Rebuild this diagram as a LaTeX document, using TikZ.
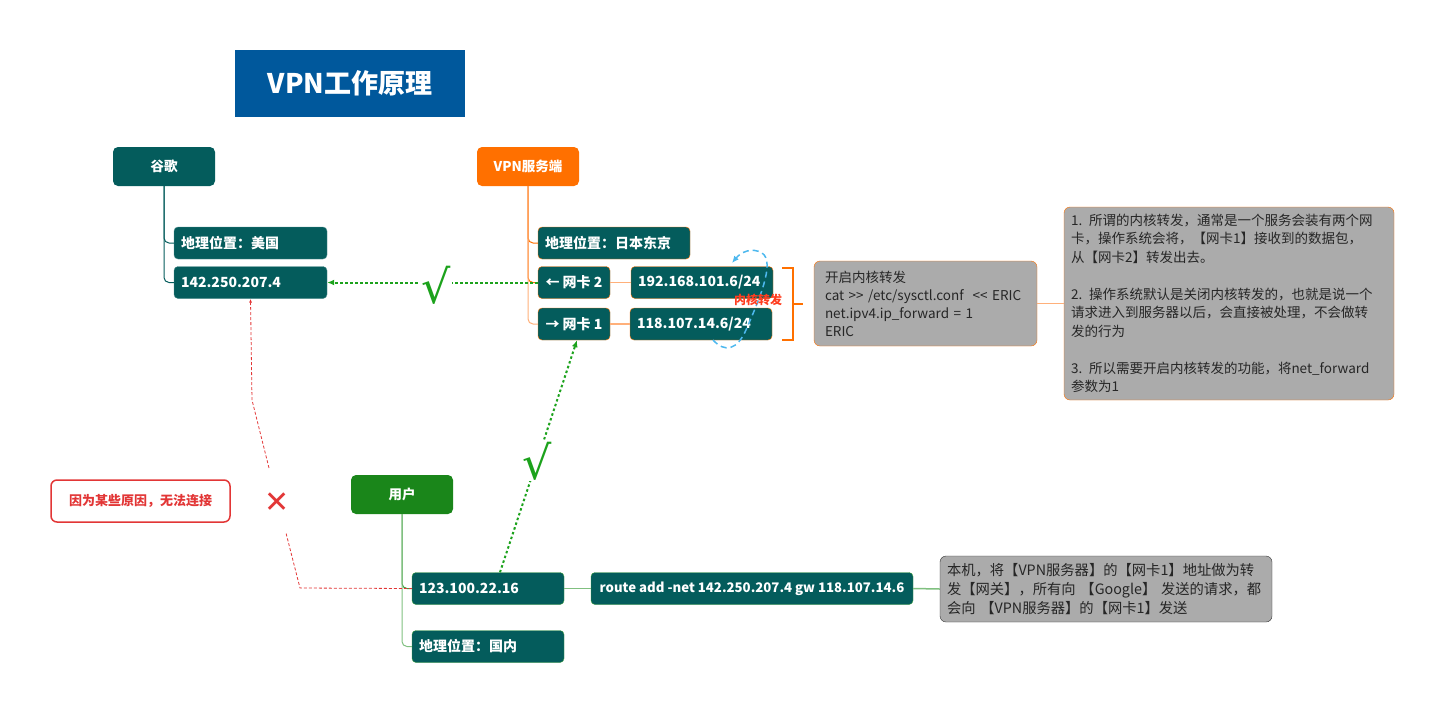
\documentclass[tikz,border=0pt]{standalone}
\usepackage{fontspec}
\setmainfont{Noto Sans CJK SC}
\newfontfamily\symfont{DejaVu Sans}
\usetikzlibrary{arrows.meta}
\definecolor{tealbox}{HTML}{045C5C}
\definecolor{vpnorange}{HTML}{FF7000}
\definecolor{lightorange}{HTML}{FFB07A}
\definecolor{usergreen}{HTML}{1A861A}
\definecolor{linegreen}{HTML}{3F9F3F}
\definecolor{lightgreen}{HTML}{80C080}
\definecolor{dotgreen}{HTML}{1CA21C}
\definecolor{titleblue}{HTML}{00589C}
\definecolor{graybox}{HTML}{ABABAB}
\definecolor{warnred}{HTML}{E23636}
\definecolor{kernred}{HTML}{FF3D1F}
\definecolor{loopblue}{HTML}{4DB8EE}
\begin{document}
\begin{tikzpicture}[x=1pt,y=1pt,
  hub/.style={rounded corners=5pt, text=white, font=\bfseries\fontsize{13.5}{16}\selectfont,
    minimum width=102pt, minimum height=39pt, inner sep=0pt},
  leaf/.style={rounded corners=4pt, fill=tealbox, text=white, font=\bfseries\fontsize{14}{16}\selectfont,
    minimum height=32pt, inner xsep=7pt, inner ysep=0pt, align=left},
  memo/.style={rounded corners=6pt, fill=graybox, text=black!85, align=left, inner xsep=7pt},
  branch/.style={rounded corners=5pt, line width=1pt},
  okpath/.style={dotgreen, line width=2pt, dash pattern=on 2.5pt off 2.5pt, -{Latex[length=7pt,width=6pt]}},
  failpath/.style={warnred, line width=0.8pt, dash pattern=on 3pt off 2pt, -{Latex[length=4pt,width=3pt]}},
  tick/.style={dotgreen, font=\symfont\fontsize{46}{46}\selectfont, inner sep=1pt}]
\useasboundingbox (0,0) rectangle (1445,-713);
% Title
\node[fill=titleblue, text=white, font=\bfseries\fontsize{27}{30}\selectfont,
  minimum width=230pt, minimum height=67pt] (title) at (350,-83.5) {VPN工作原理};

% Google side
\node[hub, fill=tealbox] (gg) at (164,-166.5) {谷歌};
\node[leaf, draw=tealbox!70, text width=139pt] (geo1) at (250.5,-243) {地理位置：美国};
\node[leaf, draw=tealbox!70, text width=139pt] (ip1) at (250.5,-282.5) {142.250.207.4};
\draw[branch, tealbox] (gg.south) |- (geo1.west);
\draw[branch, tealbox] (gg.south) |- (ip1.west);

% VPN server side
\node[hub, fill=vpnorange] (vpn) at (528,-166.5) {VPN服务端};
\node[leaf, draw=vpnorange, text width=138pt] (geo2) at (614,-243) {地理位置：日本东京};
\node[leaf, draw=vpnorange, minimum width=72pt] (nic2) at (574,-282.5) {← 网卡 2};
\node[leaf, draw=vpnorange, minimum width=72pt] (nic1) at (574,-324) {→ 网卡 1};
\node[leaf, draw=vpnorange, text width=128pt] (ip2) at (702,-282.5) {192.168.101.6/24};
\node[leaf, draw=vpnorange, text width=128pt] (ip3) at (701,-324) {118.107.14.6/24};
\draw[branch, vpnorange] (vpn.south) |- (geo2.west);
\draw[branch, vpnorange] (vpn.south) |- (nic2.west);
\draw[branch, lightorange] (vpn.south) |- (nic1.west);
\draw[lightorange, line width=1.5pt] (nic2.east) -- (ip2.west);
\draw[lightorange, line width=1.5pt] (nic1.east) -- (ip3.west);

% Kernel forwarding loop
\draw[loopblue, line width=1.5pt, dash pattern=on 6pt off 4pt, -{Latex[length=7pt,width=6pt]}]
  (713,-340) .. controls (725,-353) and (737,-350) .. (746,-330)
  .. controls (758,-302) and (776,-262) .. (762,-253)
  .. controls (752,-247) and (741,-252) .. (732,-263);
\node[kernred, font=\bfseries\fontsize{12}{14}\selectfont, inner sep=0pt] (kern) at (758,-300) {内核转发};

% Bracket and notes
\coordinate (brk) at (793,-304);
\draw[vpnorange, line width=1.5pt] (782,-268) -- (793,-268) -- (793,-340) -- (782,-340);
\draw[vpnorange, line width=1.5pt] (brk) -- ++(10,0);
\node[memo, draw=vpnorange, text width=201pt, inner xsep=11pt, minimum height=85pt,
  font=\fontsize{13.5}{18}\selectfont] (cmd) at (925.5,-303.5)
  {开启内核转发\\
   cat >{}> /etc/sysctl.conf \ <{}< ERIC\\
   net.ipv4.ip\_forward = 1\\
   ERIC};
\node[memo, draw=vpnorange, text width=316pt, minimum height=193pt,
  font=\fontsize{13.5}{18.5}\selectfont] (note) at (1229,-303.5)
  {1. 所谓的内核转发，通常是一个服务会装有两个网\\
   卡，操作系统会将，【网卡1】接收到的数据包，\\
   从【网卡2】转发出去。\\[18.5pt]
   2. 操作系统默认是关闭内核转发的，也就是说一个\\
   请求进入到服务器以后，会直接被处理，不会做转\\
   发的行为\\[18.5pt]
   3. 所以需要开启内核转发的功能，将net\_forward\\
   参数为1};
\draw[lightorange, line width=1.5pt] (cmd.east) -- (note.west);

% User side
\node[hub, fill=usergreen] (usr) at (402,-494.5) {用户};
\node[leaf, draw=linegreen, text width=138pt] (usrip) at (488,-588.5) {123.100.22.16};
\node[leaf, draw=linegreen, text width=138pt] (geo3) at (488,-646.5) {地理位置：国内};
\node[leaf, draw=linegreen, minimum width=322pt, inner xsep=3pt, align=center,
  font=\bfseries\fontsize{13.2}{16}\selectfont] (route) at (752,-588.5)
  {route add -net 142.250.207.4 gw 118.107.14.6};
\node[memo, draw=black!80, text width=318pt, minimum height=66pt,
  font=\fontsize{14.3}{19}\selectfont] (note2) at (1106,-589)
  {本机，将【VPN服务器】的【网卡1】地址做为转\\
   发【网关】，所有向 【Google】 发送的请求，都\\
   会向 【VPN服务器】的【网卡1】发送};
\draw[branch, linegreen] (usr.south) |- (usrip.west);
\draw[branch, lightgreen] (usr.south) |- (geo3.west);
\draw[lightgreen, line width=1.5pt] (usrip.east) -- (route.west);
\draw[lightgreen, line width=1.5pt] (route.east) -- (note2.west);

% Working paths
\draw[okpath] (nic2.west) -- (ip1.east);
\node[tick, fill=white] (chk1) at (436,-285) {√};
\draw[okpath] ([xshift=12pt]usrip.north) -- ([xshift=3pt]nic1.south);
\node[tick, fill=white] (chk2) at (537,-461) {√};

% Blocked path
\coordinate (r1) at (300,-588);
\coordinate (r2) at (286,-533);
\coordinate (r3) at (269,-468);
\coordinate (r4) at (252,-400);
\draw[warnred, line width=0.8pt, dash pattern=on 3pt off 2pt] (usrip.west) -- (r1) -- (r2);
\draw[failpath] (r3) -- (r4) -- (ip1.south);
\node[warnred, font=\symfont\fontsize{30}{30}\selectfont, inner sep=0pt] (cross) at (277,-503) {✕};
\node[draw=warnred, line width=1.5pt, rounded corners=6pt, text=warnred,
  font=\bfseries\fontsize{13}{16}\selectfont, minimum width=179pt, minimum height=42pt] (warn)
  at (140.5,-501) {因为某些原因，无法连接};
\end{tikzpicture}
\end{document}
